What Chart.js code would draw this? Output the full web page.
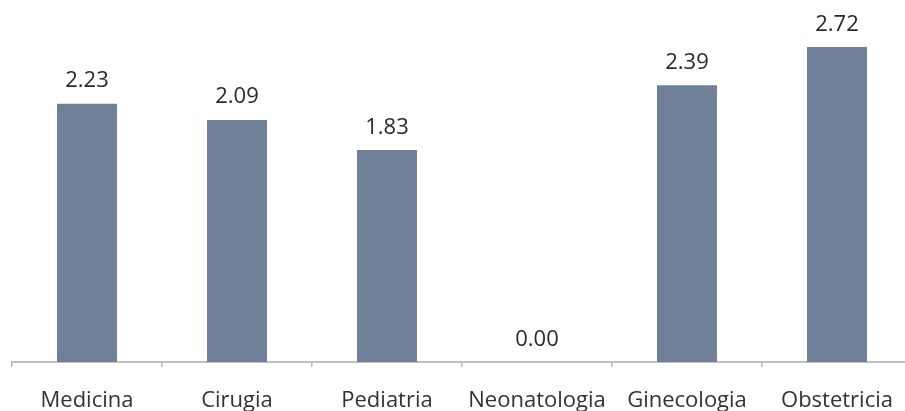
<!DOCTYPE html>
<html>
<head>
<meta charset="utf-8">
<script src="https://cdn.jsdelivr.net/npm/chart.js@4/dist/chart.umd.min.js"></script>
<style>
  html, body { margin: 0; padding: 0; background: #fff; overflow: hidden; }
  #wrap { position: absolute; left: 0; top: 0; width: 920px; height: 411px; }
</style>
</head>
<body>
<div id="wrap"><canvas id="c"></canvas></div>
<script>
const categories = ["Medicina", "Cirugia", "Pediatria", "Neonatologia", "Ginecologia", "Obstetricia"];
const values = [2.23, 2.09, 1.83, 0.00, 2.39, 2.72];

const FONT = "'Open Sans', sans-serif";

// Writes each bar's value just above it
const valueLabels = {
  id: 'valueLabels',
  afterDatasetsDraw(chart) {
    const ctx = chart.ctx;
    const meta = chart.getDatasetMeta(0);
    ctx.save();
    ctx.font = "22px " + FONT;
    ctx.fillStyle = "#2a2a2a";
    ctx.textAlign = "center";
    ctx.textBaseline = "alphabetic";
    meta.data.forEach((bar, i) => {
      ctx.fillText(values[i].toFixed(2), bar.x, bar.y - 16.5);
    });
    ctx.restore();
  }
};

new Chart(document.getElementById('c'), {
  type: 'bar',
  data: {
    labels: categories,
    datasets: [{
      data: values,
      backgroundColor: '#6f8098',
      borderWidth: 0,
      categoryPercentage: 1,
      barPercentage: 0.4
    }]
  },
  options: {
    responsive: true,
    maintainAspectRatio: false,
    animation: false,
    layout: { padding: { left: 12, right: 8, top: 0, bottom: 0 } },
    plugins: { legend: { display: false }, tooltip: { enabled: false } },
    scales: {
      x: {
        offset: true,
        afterFit(scale) { scale.height = 49; },
        grid: {
          offset: true,
          drawOnChartArea: false,
          drawTicks: true,
          tickLength: 5,
          color: '#b8b8b8',
          lineWidth: 1.5
        },
        border: { display: true, color: '#c0c0c0', width: 2 },
        ticks: {
          color: '#333333',
          font: { family: FONT, size: 22 },
          padding: 21,
          maxRotation: 0,
          autoSkip: false
        }
      },
      y: {
        display: false,
        min: 0,
        max: 3.126
      }
    }
  },
  plugins: [valueLabels]
});
</script>
</body>
</html>
